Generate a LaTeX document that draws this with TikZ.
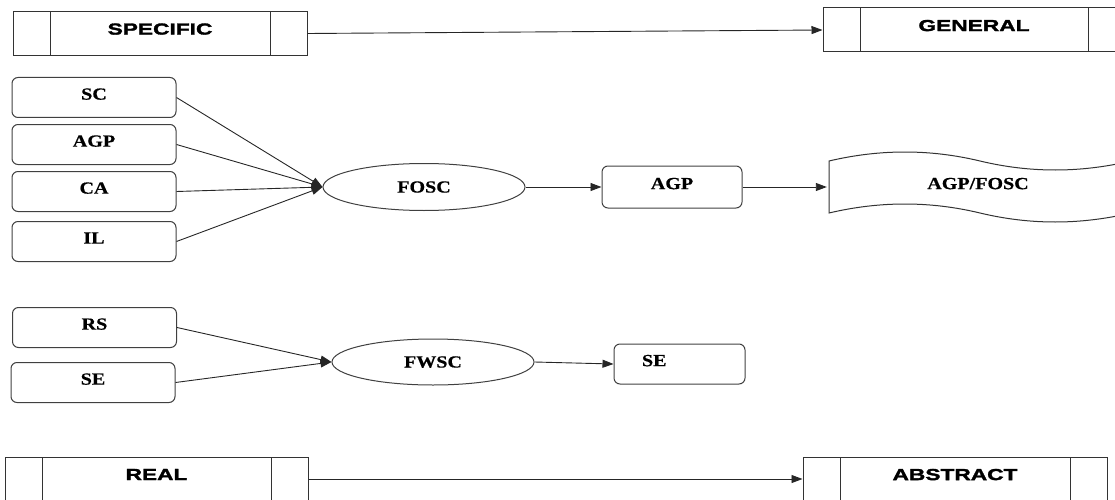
\documentclass[tikz,border=0pt]{standalone}
\usepackage{fontspec}
\usetikzlibrary{arrows.meta,shapes.geometric}
\newfontfamily\barfont{Liberation Sans}[FakeStretch=1.42,FakeBold=2]
\newfontfamily\boxfont{Liberation Serif}[FakeStretch=1.18,FakeBold=0.5]

\tikzset{
	barbox/.style={draw=black!80, line width=1pt, minimum width=294pt, minimum height=44pt, inner sep=0pt, text depth=9pt,
		font={\barfont\bfseries\fontsize{16}{19}\selectfont},
		path picture={
			\draw[black!80, line width=1pt] ([xshift=37pt]path picture bounding box.north west) -- ([xshift=37pt]path picture bounding box.south west);
			\draw[black!80, line width=1pt] ([xshift=-37pt]path picture bounding box.north east) -- ([xshift=-37pt]path picture bounding box.south east);
		}},
	roundbox/.style={draw=black!75, line width=1pt, rounded corners=6pt, minimum width=164pt, minimum height=40pt, inner sep=0pt, text depth=7pt,
		font={\boxfont\bfseries\fontsize{17}{20}\selectfont}},
	ovalbox/.style={ellipse, draw=black!75, line width=1pt, minimum width=202pt, minimum height=47pt, inner sep=0pt,
		font={\boxfont\bfseries\fontsize{17}{20}\selectfont}},
	arr/.style={-{Triangle[length=11pt,width=8pt]}, draw=black!85, line width=0.9pt}
}

\begin{document}
\begin{tikzpicture}[x=1pt, y=-1pt]
		%%%%% START %%%%%
		\useasboundingbox (0,0) rectangle (1115,500);
		\clip (0,0) rectangle (1115,500);
		
		\node[barbox] (specific) at (160,33.5) {SPECIFIC};
		\node[barbox, minimum width=302pt] (general) at (974,30) {GENERAL};
		\draw[arr] (specific.east) -- (general.west);
		
		\node[roundbox] (sc) at (94,97.5) {SC};
		\node[roundbox] (agpin) at (94,144.5) {AGP};
		\node[roundbox] (ca) at (94,191.5) {CA};
		\node[roundbox] (il) at (94,241.5) {IL};
		\node[ovalbox] (fosc) at (424,187) {FOSC};
		\foreach \n in {sc,agpin,ca,il}
			\draw[arr] (\n.east) -- (fosc.west);
		
		\node[roundbox, minimum width=140pt, minimum height=42pt] (agp) at (672,187) {AGP};
		\draw[arr] (fosc.east) -- (agp.west);
		
		% wave shape, runs off the right edge
		\draw[black!80, line width=1pt] (829,213) -- (829,161)
			.. controls (880,149) and (930,149) .. (980,161)
			.. controls (1030,173) and (1080,173) .. (1131,161)
			-- (1131,213)
			.. controls (1080,225) and (1030,225) .. (980,213)
			.. controls (930,201) and (880,201) .. cycle;
		\node[minimum width=302pt, minimum height=52pt, inner sep=0pt, text depth=7pt,
			font={\boxfont\bfseries\fontsize{17}{20}\selectfont}] (agpfosc) at (978,187) {AGP/FOSC};
		\draw[arr] (agp.east) -- (agpfosc.west);
		
		\node[roundbox] (rs) at (94.5,327.5) {RS};
		\node[roundbox] (sein) at (93,382.5) {SE};
		\node[ovalbox, minimum height=46pt] (fwsc) at (433,362) {FWSC};
		\foreach \n in {rs,sein}
			\draw[arr] (\n.east) -- (fwsc.west);
		
		\node[roundbox, minimum width=131pt, text width=75pt, inner xsep=28pt, align=left] (seout) at (679.5,364) {SE};
		\draw[arr] (fwsc.east) -- (seout.west);
		
		\node[barbox, minimum width=303pt] (real) at (156.5,479) {REAL};
		\node[barbox, minimum width=304pt] (abstract) at (955,479) {ABSTRACT};
		\draw[arr] (real.east) -- (abstract.west);
		
		%%%%% END %%%%%
\end{tikzpicture}
\end{document}
